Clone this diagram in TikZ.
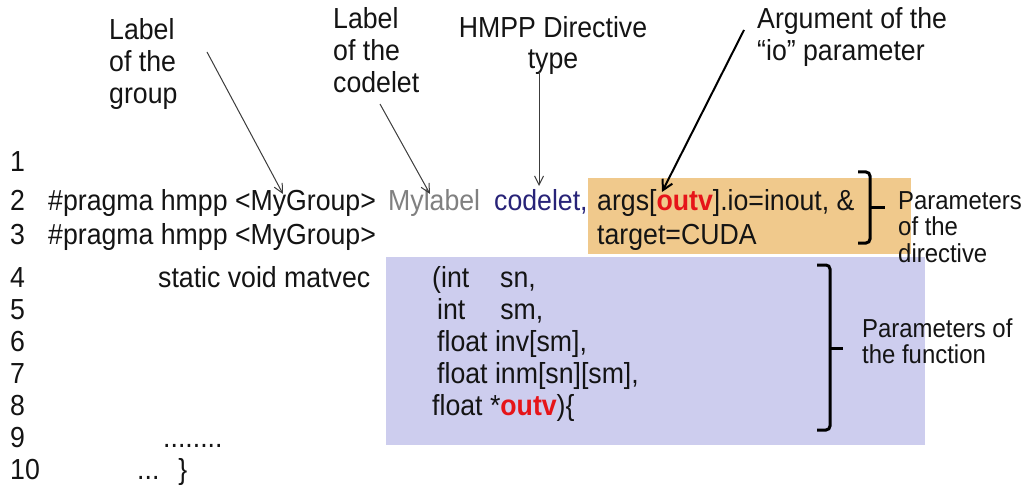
\documentclass[tikz,border=0pt]{standalone}
\usepackage{fontspec}
\setmainfont{Liberation Sans}[FakeStretch=0.92]
\usetikzlibrary{arrows.meta}
\definecolor{codeink}{RGB}{20,20,20}
\definecolor{orangebox}{RGB}{240,201,140}
\definecolor{bluebox}{RGB}{205,205,238}
\definecolor{labelgray}{RGB}{128,128,128}
\definecolor{navyink}{RGB}{40,35,120}
\definecolor{outvred}{RGB}{230,20,25}
\definecolor{arrowgray}{RGB}{60,60,60}
\newcommand\hlout{\textcolor{outvred}{\textbf{outv}}}
\begin{document}
\begin{tikzpicture}[x=1pt,y=-1pt,
  code/.style={anchor=base west, inner sep=0pt, text=codeink, font=\fontsize{29}{32}\selectfont},
  lbl/.style={anchor=north west, inner sep=0pt, align=left, text=codeink, font=\fontsize{29}{32}\selectfont},
  smalllbl/.style={anchor=north west, inner sep=0pt, align=left, text=codeink, font=\fontsize{26}{26.5}\selectfont},
  thinarrow/.style={draw=arrowgray, line width=1pt, -{Straight Barb[length=9pt,width=9pt]}},
  boldarrow/.style={draw=black, line width=2pt, -{Straight Barb[length=10pt,width=11pt]}},
  bracestroke/.style={draw=black, line width=3pt, rounded corners=4pt},
  ]
\useasboundingbox (0,0) rectangle (1024,486);
\fill[white] (0,0) rectangle (1024,486);
\fill[orangebox] (588,178) rectangle (911,254);
\fill[bluebox] (386,257) rectangle (925,445);

% line numbers
\node[code] (n1) at (10,172) {1};
\node[code] (n2) at (10,211) {2};
\node[code] (n3) at (10,244) {3};
\node[code] (n4) at (10,287) {4};
\node[code] (n5) at (10,319) {5};
\node[code] (n6) at (10,351) {6};
\node[code] (n7) at (10,383) {7};
\node[code] (n8) at (10,415) {8};
\node[code] (n9) at (10,447) {9};
\node[code] (n10) at (10,479) {10};

% code
\node[code] (l2a) at (48,211) {\#pragma hmpp <MyGroup>};
\node[code, text=labelgray] (l2b) at (388,211) {Mylabel};
\node[code, text=navyink] (l2c) at (494,211) {codelet,};
\node[code] (l2d) at (597,211) {args[\hlout].io=inout, \&};
\node[code] (l3a) at (48,244) {\#pragma hmpp <MyGroup>};
\node[code] (l3b) at (597,244) {target=CUDA};
\node[code] (l4a) at (158,287) {static void matvec};
\node[code] (l4b) at (432,287) {(int\hspace{31pt}sn,};
\node[code] (l5) at (437,319) {int\hspace{35pt}sm,};
\node[code] (l6) at (437,351) {float inv[sm],};
\node[code] (l7) at (437,383) {float inm[sn][sm],};
\node[code] (l8) at (432,415) {float *\hlout)\{};
\node[code] (l9) at (163,447) {........};
\node[code] (l10) at (137,479) {...\hspace{19pt}\}};

% labels
\node[lbl] (grpLbl) at (109,18) {Label\\of the\\group};
\node[lbl] (cdlLbl) at (333,6.9) {Label\\of the\\codelet};
\node[lbl, align=center, anchor=north, font=\fontsize{29}{31}\selectfont] (typeLbl) at (553,16.2) {HMPP Directive\\type};
\node[lbl] (argLbl) at (757,6.9) {Argument of the\\“io” parameter};
\node[smalllbl] (dirLbl) at (898,191) {Parameters\\of the\\directive};
\node[smalllbl] (fnLbl) at (862,318) {Parameters of\\the function};

% brackets
\draw[bracestroke] (858,172) -- (870,172) -- (870,243) -- (858,243);
\draw[bracestroke] (870,208) -- (885,208);
\draw[bracestroke] (817,265) -- (830,265) -- (830,430) -- (817,430);
\draw[bracestroke] (830,348) -- (843,348);

% arrows
\coordinate (grpFrom) at (207,52);
\coordinate (grpTo) at (283,194);
\coordinate (cdlFrom) at (380,104);
\coordinate (cdlTo) at (430,194);
\coordinate (typeFrom) at (539,72);
\coordinate (typeTo) at (539,186);
\coordinate (argFrom) at (744,30);
\coordinate (argTo) at (662,192);
\draw[thinarrow] (grpFrom) -- (grpTo);
\draw[thinarrow] (cdlFrom) -- (cdlTo);
\draw[thinarrow] (typeFrom) -- (typeTo);
\draw[boldarrow] (argFrom) -- (argTo);
\end{tikzpicture}
\end{document}
